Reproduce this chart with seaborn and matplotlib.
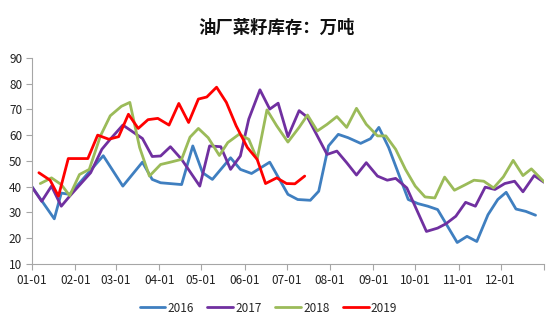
import pandas as pd
import seaborn as sns
import matplotlib.pyplot as plt
import matplotlib.dates as mdates

# day of year (0 = 01-01) and stock, 万吨
days_2016 = [0, 16, 21, 27, 51, 65, 79, 86, 92, 107, 115, 122, 129, 142, 149, 157, 170, 183, 190, 199,
             205, 212, 219, 226, 235, 242, 248, 255, 269, 276, 283, 290, 304, 311, 318, 326, 333, 339,
             346, 353, 360]
vals_2016 = [40, 27.5, 37.5, 37, 52, 40.2, 49.5, 42.8, 41.5, 40.8, 55.8, 45.4, 42.8, 51.2, 46.7, 45.1,
             49.5, 37, 35, 34.7, 38.2, 55.8, 60.3, 59, 56.8, 58.6, 63, 55.2, 35, 33.4, 32.4, 31.1, 18.3,
             20.7, 18.7, 29.1, 35, 37.8, 31.3, 30.4, 28.9]

days_2017 = [0, 7, 14, 21, 27, 42, 50, 56, 65, 79, 86, 92, 99, 107, 120, 127, 135, 142, 149, 155, 163,
             170, 176, 183, 191, 197, 211, 218, 225, 232, 239, 247, 254, 260, 268, 282, 290, 296, 303,
             310, 317, 324, 331, 338, 345, 351, 359, 366]
vals_2017 = [39.9, 34.3, 40.2, 32.4, 36.3, 45.4, 54.5, 58.4, 63.9, 58.7, 51.7, 51.9, 55.5, 50.6, 40.2,
             55.8, 55.5, 46.7, 51.9, 66.2, 77.6, 70.1, 72.4, 59.4, 69.5, 66.9, 52.5, 53.8, 49.3, 44.5,
             49.3, 44.1, 42.5, 43.2, 39.5, 22.6, 23.9, 25.6, 28.5, 33.9, 32.4, 39.8, 38.9, 41.2, 42.1,
             38, 44.3, 41.7]

days_2018 = [6, 14, 21, 27, 34, 41, 49, 56, 64, 70, 77, 84, 92, 99, 107, 113, 119, 126, 134, 140, 148,
             155, 161, 168, 175, 183, 191, 197, 204, 211, 218, 225, 232, 239, 247, 253, 260, 267, 274,
             281, 288, 295, 302, 310, 316, 323, 330, 337, 344, 351, 357, 366]
vals_2018 = [41.2, 43.4, 40.8, 36.5, 44.7, 46.7, 59.7, 67.5, 71.2, 72.7, 55.2, 44.1, 48.6, 49.5, 50.6,
             59.2, 62.6, 59, 52.1, 57.1, 60.3, 58.4, 50.6, 69.8, 63.6, 57.3, 63, 67.8, 61.6, 64.2, 67.2,
             63, 70.4, 64.2, 59.7, 59.7, 54.5, 46.7, 40.2, 36, 35.6, 43.7, 38.6, 40.8, 42.5, 42.1, 39.5,
             43.8, 50.2, 44.3, 46.9, 41.9]

days_2019 = [5, 13, 19, 26, 40, 47, 55, 62, 69, 76, 83, 90, 98, 105, 112, 119, 125, 132, 139, 146,
             154, 161, 167, 175, 182, 188, 195]
vals_2019 = [45.4, 42.5, 36.3, 50.9, 50.9, 60, 58.4, 59.4, 68.1, 62.6, 66, 66.5, 63.9, 72.3, 64.9, 74,
             74.8, 78.6, 72.7, 63.6, 55.2, 50.6, 41.2, 43.4, 41.2, 41.1, 44.1]

years = ['2016', '2017', '2018', '2019']
colors = {'2016': '#3f7fc0', '2017': '#7030a0', '2018': '#9bbb59', '2019': '#ff0000'}
month_labels = ['01-01', '02-01', '03-01', '04-01', '05-01', '06-01',
                '07-01', '08-01', '09-01', '10-01', '11-01', '12-01', '']

base = pd.Timestamp('2000-01-01')
frames = []
for y, d, v in zip(years, [days_2016, days_2017, days_2018, days_2019],
                   [vals_2016, vals_2017, vals_2018, vals_2019]):
    frames.append(pd.DataFrame({'date': base + pd.to_timedelta(d, unit='D'), 'val': v, 'year': y}))
df = pd.concat(frames)

sns.set_style('white')
plt.rcParams['font.family'] = ['Noto Sans CJK SC', 'DejaVu Sans']

fig = plt.figure(figsize=(5.5, 3.25), dpi=100)
ax = fig.add_axes([0.058, 0.188, 0.931, 0.634])
sns.lineplot(data=df, x='date', y='val', hue='year', hue_order=years, palette=colors,
             linewidth=2.0, legend=False, ax=ax)

ax.set_xlim(base, pd.Timestamp('2001-01-01'))
ax.set_ylim(10, 90)
ax.set_yticks(range(10, 91, 10))
ticks = pd.date_range('2000-01-01', '2001-01-01', freq='MS')
ax.set_xticks(ticks)
ax.set_xticklabels(month_labels)
ax.set_xlabel('')
ax.set_ylabel('')
for s in ['top', 'right']:
    ax.spines[s].set_visible(False)
for s in ['left', 'bottom']:
    ax.spines[s].set_color('#a6a6a6')
    ax.spines[s].set_linewidth(0.8)
ax.tick_params(axis='both', which='major', direction='out', length=4, width=0.8,
               color='#a6a6a6', labelsize=8.5, labelcolor='#222222', pad=3)
ax.tick_params(axis='y', left=True)
ax.tick_params(axis='x', bottom=True)

fig.text(0.503, 0.915, '油厂菜籽库存：万吨', ha='center', va='center', fontsize=12.5,
         fontweight='bold', color='#111111')

ax.legend(ax.get_lines(), years, loc='center', bbox_to_anchor=(0.488, 0.052),
          bbox_transform=fig.transFigure, ncol=4, frameon=False, fontsize=8.5,
          handlelength=2.2, handletextpad=0.2, columnspacing=1.1)

fig.savefig('out.png', dpi=100)
